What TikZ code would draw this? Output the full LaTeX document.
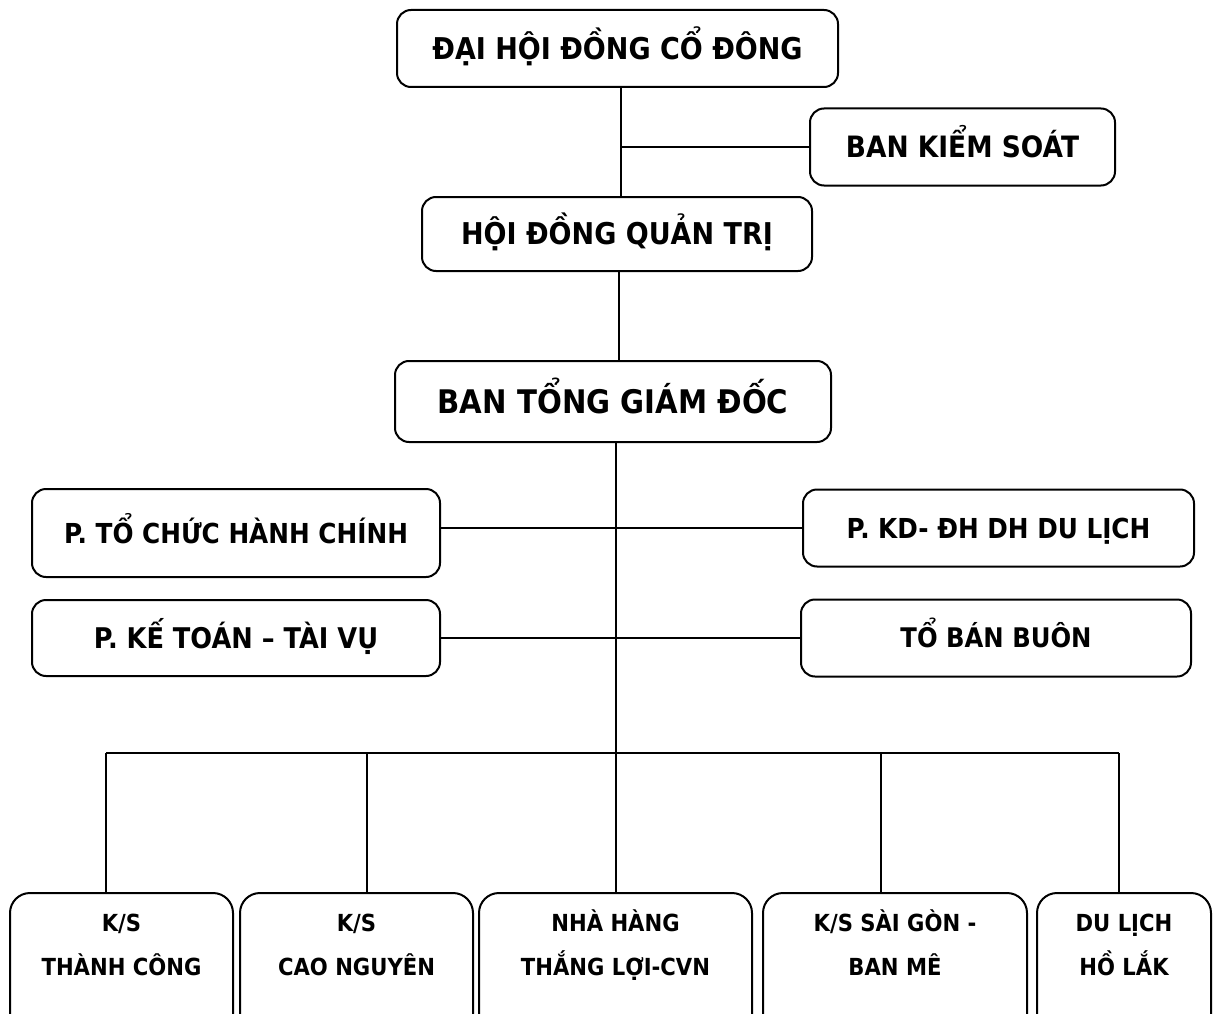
\documentclass[tikz,border=0pt]{standalone}
\usepackage{fontspec}
\setmainfont{DejaVu Sans}[FakeStretch=0.9]
\usetikzlibrary{calc}
\begin{document}
\begin{tikzpicture}[x=1pt,y=-1pt,
  box/.style={draw, line width=2pt, rounded corners=14pt, inner sep=0pt,
    text height={0.73*#1}, text depth=0pt,
    font=\bfseries\fontsize{#1}{#1}\selectfont},
  box/.default=28,
  bbox/.style={draw, line width=2pt, rounded corners=20pt, inner sep=0pt,
    minimum height=170, anchor=north},
  btxt/.style={inner sep=0pt, text height={0.73*23.5}, text depth=0pt,
    font=\bfseries\fontsize{23.5}{23.5}\selectfont},
  conn/.style={line width=1.8pt}]
\useasboundingbox (0,0) rectangle (1218,1014);
\clip (0,0) rectangle (1218,1014);
\fill[white] (0,0) rectangle (1218,1014);

% top boxes
\node[box=30, minimum width=441, minimum height=77] (dh) at (617.5,48.5) {ĐẠI HỘI ĐỒNG CỔ ĐÔNG};
\node[box=29.4, minimum width=305, minimum height=77] (bks) at (962.5,147) {BAN KIỂM SOÁT};
\node[box=30, minimum width=390, minimum height=74] (hdqt) at (617,234) {HỘI ĐỒNG QUẢN TRỊ};
\node[box=32.5, minimum width=436, minimum height=81] (btgd) at (613,401.5) {BAN TỔNG GIÁM ĐỐC};

% middle boxes
\node[box=27.5, minimum width=408, minimum height=88] (tchc) at (236,533) {P. TỔ CHỨC HÀNH CHÍNH};
\node[box=27.5, minimum width=391, minimum height=77] (kd) at (998.5,528) {P. KD- ĐH DH DU LỊCH};
\node[box=28.5, minimum width=408, minimum height=76] (kt) at (236,638) {P. KẾ TOÁN – TÀI VỤ};
\node[box=27, minimum width=390, minimum height=77] (tbb) at (996,638) {TỔ BÁN BUÔN};

% bottom boxes
\node[bbox, minimum width=223] (b1) at (121.5,892) {};
\node[bbox, minimum width=233] (b2) at (356.5,892) {};
\node[bbox, minimum width=273] (b3) at (615.5,892) {};
\node[bbox, minimum width=264] (b4) at (895,892) {};
\node[bbox, minimum width=174] (b5) at (1124,892) {};

\node[btxt] (b1a) at (121.5,923) {K/S};
\node[btxt] (b1b) at (121.5,967) {THÀNH CÔNG};
\node[btxt] (b2a) at (356.5,923) {K/S};
\node[btxt] (b2b) at (356.5,967) {CAO NGUYÊN};
\node[btxt] (b3a) at (615.5,923) {NHÀ HÀNG};
\node[btxt] (b3b) at (615.5,967) {THẮNG LỢI-CVN};
\node[btxt] (b4a) at (895,923) {K/S SÀI GÒN -};
\node[btxt] (b4b) at (895,967) {BAN MÊ};
\node[btxt] (b5a) at (1124,923) {DU LỊCH};
\node[btxt] (b5b) at (1124,967) {HỒ LẮK};

% connectors
\coordinate (s1) at (621,0);
\coordinate (s2) at (619,0);
\coordinate (s3) at (616,0);
\coordinate (bus) at (616,753);
\coordinate (d1) at (106,753);
\coordinate (d2) at (367,753);
\coordinate (d4) at (881,753);
\coordinate (d5) at (1119,753);

\draw[conn] (dh.south -| s1) -- (hdqt.north -| s1);
\draw[conn] (s1 |- bks.west) -- (bks.west);
\draw[conn] (hdqt.south -| s2) -- (btgd.north -| s2);
\draw[conn] (btgd.south -| s3) -- (bus);
\draw[conn] (tchc.east |- kd.west) -- (kd.west);
\draw[conn] (kt.east) -- (tbb.west);
\draw[conn] (d1) -- (d5);
\draw[conn] (d1) -- (d1 |- b1.north);
\draw[conn] (d2) -- (d2 |- b2.north);
\draw[conn] (bus) -- (bus |- b3.north);
\draw[conn] (d4) -- (d4 |- b4.north);
\draw[conn] (d5) -- (d5 |- b5.north);
\end{tikzpicture}
\end{document}
